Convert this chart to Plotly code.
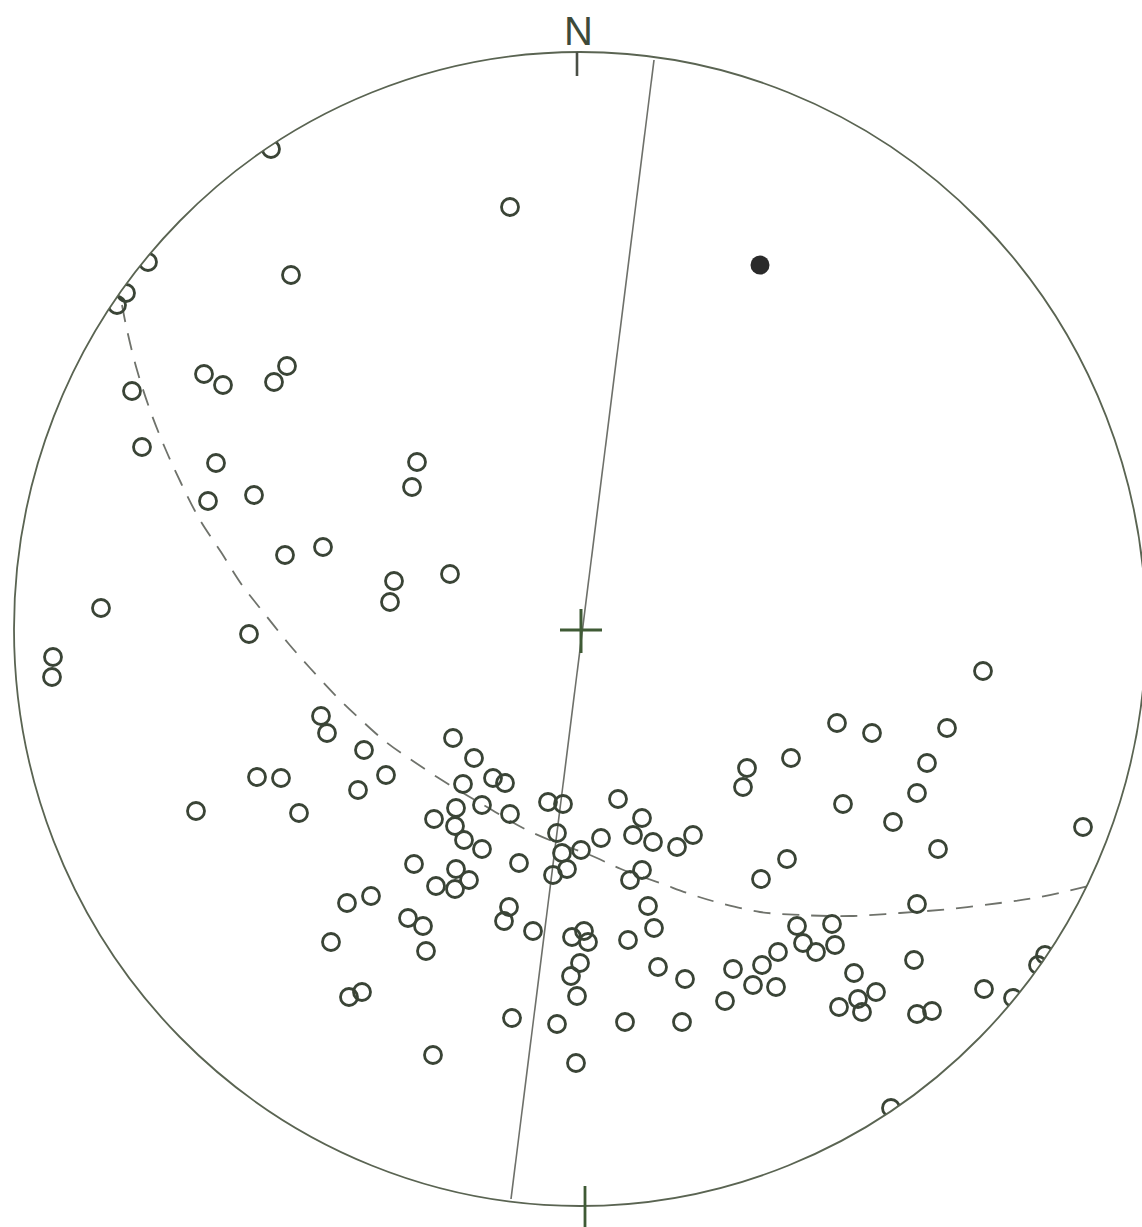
import numpy as np
import plotly.graph_objects as go

# Projected positions of poles on the net (net units = px of the original plot)
pole_x = [271, 148, 126, 117, 510, 291, 132, 204, 223, 274, 287, 142, 216, 208, 254, 417, 412, 285, 323, 394,
          390, 450, 101, 249, 53, 52,
          321, 327, 364, 386, 358, 257, 281, 196, 299, 434, 414, 436, 347, 371, 408, 423, 331, 426,
          453, 474, 493, 505, 463, 456, 482, 455, 464, 482, 510, 548, 563, 557, 562, 581, 567, 553, 519, 601,
          618, 642, 633, 653, 677, 693, 642, 630, 456, 455, 469, 509, 504, 533, 648, 654, 572, 584, 588, 628,
          580, 571, 577, 658, 685, 349, 362, 512, 557, 625, 682, 433, 576,
          983, 837, 872, 947, 791, 747, 743, 927, 917, 843, 893, 1083, 938, 787, 761, 917, 797, 832, 803, 816,
          835, 778, 762, 733, 753, 776, 725, 854, 914, 876, 858, 839, 862, 917, 932, 984, 1045, 1038, 1013, 891]
pole_y = [149, 262, 293, 305, 207, 275, 391, 374, 385, 382, 366, 447, 463, 501, 495, 462, 487, 555, 547, 581,
          602, 574, 608, 634, 657, 677,
          716, 733, 750, 775, 790, 777, 778, 811, 813, 819, 864, 886, 903, 896, 918, 926, 942, 951,
          738, 758, 778, 783, 784, 808, 805, 826, 840, 849, 814, 802, 804, 833, 853, 850, 869, 875, 863, 838,
          799, 818, 835, 842, 847, 835, 870, 880, 869, 889, 880, 907, 921, 931, 906, 928, 937, 931, 942, 940,
          963, 976, 996, 967, 979, 997, 992, 1018, 1024, 1022, 1022, 1055, 1063,
          671, 723, 733, 728, 758, 768, 787, 763, 793, 804, 822, 827, 849, 859, 879, 904, 926, 924, 943, 952,
          945, 952, 965, 969, 985, 987, 1001, 973, 960, 992, 999, 1007, 1012, 1014, 1011, 989, 955, 965, 998, 1108]

# Mean / special pole (filled)
mean_x = [760]
mean_y = [265]

# Dashed girdle
girdle_x = [122, 127, 137, 150, 165, 181, 200, 221, 242, 264, 288, 310, 337, 360, 386, 410, 437, 463, 492,
            523, 552, 590, 621, 660, 693, 720, 760, 800, 850, 900, 950, 1000, 1040, 1088]
girdle_y = [305, 330, 370, 410, 448, 483, 520, 552, 585, 613, 643, 668, 697, 719, 742, 759, 777, 793, 810,
            828, 841, 855, 869, 883, 895, 903, 912, 915, 916, 913, 909, 903, 897, 886]

# Vertical plane trace (rim to rim)
plane_x = [654, 511]
plane_y = [60, 1199]

# Net geometry
cx, cy = 580, 629
rx, ry = 566, 577
W, H = 1142, 1227

fig = go.Figure()

fig.add_trace(go.Scatter(x=girdle_x, y=girdle_y, mode="lines",
                         line=dict(color="#6f726b", width=1.8, dash="17px,12px", shape="spline"),
                         hoverinfo="skip"))
fig.add_trace(go.Scatter(x=plane_x, y=plane_y, mode="lines",
                         line=dict(color="#6e706a", width=1.6), hoverinfo="skip"))
fig.add_trace(go.Scatter(x=pole_x, y=pole_y, mode="markers",
                         marker=dict(symbol="circle-open", size=17, color="#3a4436",
                                     line=dict(width=2.8, color="#3a4436")),
                         hoverinfo="skip"))
fig.add_trace(go.Scatter(x=mean_x, y=mean_y, mode="markers",
                         marker=dict(symbol="circle", size=19, color="#2a2a2a"),
                         hoverinfo="skip"))

# White mask outside the primitive circle (clips rim poles)
t = np.linspace(0, 2 * np.pi, 721)
ex = cx + rx * np.cos(t)
ey = cy + ry * np.sin(t)
path = f"M -10 -10 L {W+10} -10 L {W+10} {H+10} L -10 {H+10} Z M " + " L ".join(
    f"{a:.2f} {b:.2f}" for a, b in zip(ex, ey)) + " Z"

shapes = [
    dict(type="path", path=path, fillcolor="white", fillrule="evenodd",
         line=dict(width=0), layer="above", xref="x", yref="y"),
    dict(type="circle", x0=cx - rx, x1=cx + rx, y0=cy - ry, y1=cy + ry,
         line=dict(color="#5a6452", width=1.8), layer="above", xref="x", yref="y"),
    # north tick
    dict(type="line", x0=577, x1=577, y0=cy - ry, y1=cy - ry + 24,
         line=dict(color="#4a4f46", width=2.6), layer="above", xref="x", yref="y"),
    # south tick
    dict(type="line", x0=585, x1=585, y0=cy + ry - 20, y1=H + 5,
         line=dict(color="#3f5a35", width=2.8), layer="above", xref="x", yref="y"),
    # centre cross
    dict(type="line", x0=cx - 20, x1=cx + 22, y0=cy + 1, y1=cy + 1,
         line=dict(color="#3f5a35", width=3), layer="above", xref="x", yref="y"),
    dict(type="line", x0=cx + 1, x1=cx + 1, y0=cy - 20, y1=cy + 24,
         line=dict(color="#3f5a35", width=3), layer="above", xref="x", yref="y"),
]

fig.update_layout(
    width=W, height=H,
    margin=dict(l=0, r=0, t=0, b=0),
    paper_bgcolor="white", plot_bgcolor="white",
    showlegend=False,
    shapes=shapes,
    xaxis=dict(range=[0, W], visible=False, fixedrange=True),
    yaxis=dict(range=[H, 0], visible=False, fixedrange=True),
    annotations=[dict(x=578, y=31, xref="x", yref="y", text="N", showarrow=False,
                      font=dict(family="Liberation Sans, Arial", size=40, color="#3d4a3a"),
                      xanchor="center", yanchor="middle")],
)

fig.write_html("out.html", config={"displayModeBar": False},
               post_script="document.body.style.margin='0px';document.body.style.overflow='hidden';")
